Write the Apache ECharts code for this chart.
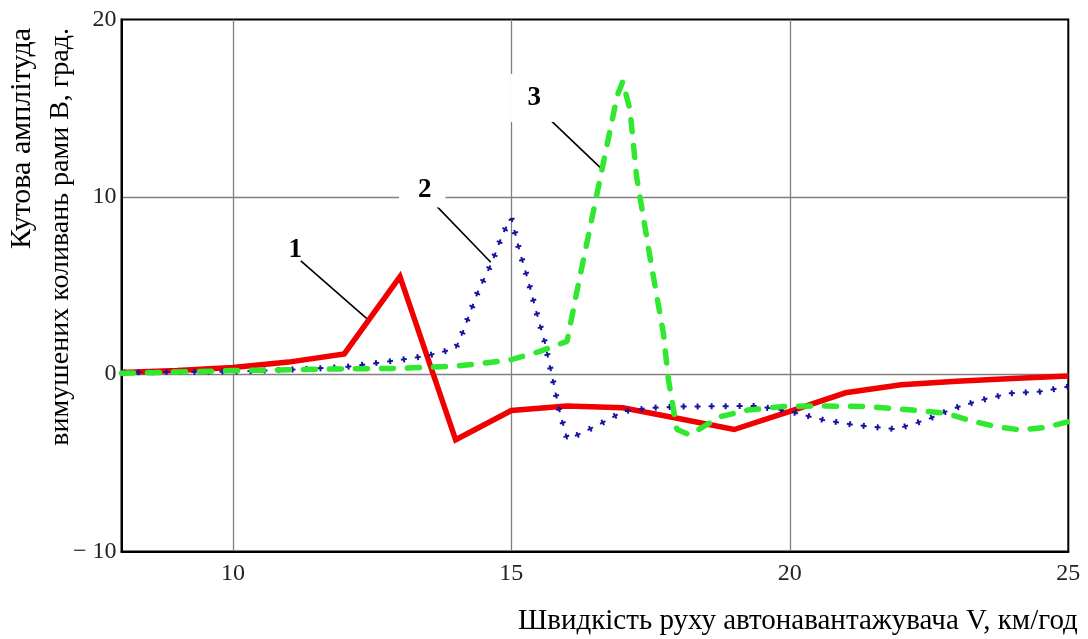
<!DOCTYPE html>
<html>
<head>
<meta charset="utf-8">
<script src="https://cdn.jsdelivr.net/npm/echarts@6/dist/echarts.min.js"></script>
<style>
html,body{margin:0;padding:0;background:#fff;}
#chart{width:1088px;height:639px;}
</style>
</head>
<body>
<div id="chart"></div>
<script>
// Curve 1 (red, solid)
const redX = [8, 9, 10, 11, 12, 13, 14, 15, 16, 17, 18, 19, 20, 21, 22, 23, 24, 25];
const redY = [0.1, 0.2, 0.38, 0.68, 1.14, 5.5, -3.7, -2.05, -1.8, -1.9, -2.5, -3.12, -2.1, -1.05, -0.6, -0.4, -0.25, -0.1];

// Curve 2 (blue, dotted with crosses)
const blueX = [8, 9, 10, 11, 12, 13, 13.5, 14, 14.1, 14.4, 14.65, 14.85, 15, 15.15, 15.3, 15.45, 15.6, 15.75, 15.85, 16, 16.25, 16.5, 16.75, 17, 17.5, 18, 19, 19.4, 20, 20.6, 21.15, 21.9, 22.45, 22.95, 23.45, 23.95, 24.5, 25];
const blueY = [0.1, 0.12, 0.15, 0.25, 0.4, 0.8, 1.05, 1.45, 2.15, 4.65, 6.3, 7.95, 8.8, 6.9, 5.3, 3.5, 1.8, -0.4, -1.9, -3.65, -3.35, -2.95, -2.55, -2.1, -1.9, -1.83, -1.8, -1.8, -2.1, -2.58, -2.86, -3.1, -2.58, -1.92, -1.45, -1.08, -0.98, -0.7];

// Curve 3 (green, dashed)
const greenX = [8, 9, 10, 11, 12, 13, 14, 14.5, 15, 15.5, 16, 16.17, 16.5, 16.9, 17, 17.13, 17.25, 17.5, 17.73, 17.82, 17.97, 18.2, 18.75, 19.25, 19.85, 20.5, 21.4, 22.2, 22.8, 23.2, 23.7, 24.15, 24.6, 25];
const greenY = [0.05, 0.12, 0.2, 0.25, 0.3, 0.33, 0.45, 0.62, 0.82, 1.27, 1.85, 4.56, 9.6, 15.7, 16.5, 14.9, 11.1, 6.4, 2.3, -0.3, -3.1, -3.43, -2.4, -2.02, -1.83, -1.79, -1.83, -2.02, -2.2, -2.58, -2.96, -3.15, -3.0, -2.68];

// Axis ticks
const xTickLabels = [10, 15, 20, 25];
const xGridTicks = [10, 15, 20];
const yMin = -10, yMax = 20, yStep = 10;
const xMin = 8, xMax = 25;

const pairs = (xs, ys) => xs.map((x, i) => [x, ys[i]]);

const chart = echarts.init(document.getElementById('chart'));
const serif = '"Liberation Serif", "DejaVu Serif", serif';
const blueData = pairs(blueX, blueY);

const option = {
  animation: false,
  backgroundColor: '#fff',
  grid: {
    left: 121.5, top: 19.5, right: 19.7, bottom: 87.5,
    show: true, borderColor: '#000', borderWidth: 2, backgroundColor: 'transparent'
  },
  xAxis: {
    type: 'value', min: xMin, max: xMax,
    axisLine: { show: true, onZero: false, lineStyle: { color: '#000', width: 2 } },
    axisTick: { show: false, customValues: xGridTicks },
    axisLabel: {
      customValues: xTickLabels, color: '#222', fontFamily: serif, fontSize: 24, margin: 10
    },
    splitLine: { show: true, lineStyle: { color: '#808080', width: 1.3 } }
  },
  yAxis: {
    type: 'value', min: yMin, max: yMax, interval: yStep,
    axisLine: { show: true, onZero: false, lineStyle: { color: '#000', width: 2 } },
    axisTick: { show: false },
    axisLabel: {
      color: '#222', fontFamily: serif, fontSize: 24, margin: 5,
      formatter: v => (v < 0 ? '\u2212 ' + Math.abs(v) : String(v))
    },
    splitLine: { show: true, showMinLine: false, showMaxLine: false, lineStyle: { color: '#808080', width: 1.3 } }
  },
  graphic: [
    {
      type: 'text', x: 22, y: 28, rotation: Math.PI / 2,
      style: { text: 'Кутова амплітуда', font: '30px ' + serif, fill: '#000', align: 'right', verticalAlign: 'middle' }
    },
    {
      type: 'text', x: 61, y: 28, rotation: Math.PI / 2,
      style: { text: 'вимушених коливань рами В, град.', font: '28px ' + serif, fill: '#000', align: 'right', verticalAlign: 'middle' }
    },
    {
      type: 'text', x: 518, y: 621,
      style: { text: 'Швидкість руху автонавантажувача V, км/год', font: '29px ' + serif, fill: '#000', align: 'left', verticalAlign: 'middle' }
    }
  ],
  series: [
    {
      name: '1', type: 'line', data: pairs(redX, redY), symbol: 'none', z: 3,
      lineStyle: { color: '#f00000', width: 5.5, join: 'miter' },
      markLine: {
        silent: true, symbol: 'none', animation: false,
        label: { show: false },
        lineStyle: { color: '#000', width: 1.6, type: 'solid' },
        data: [
          [{ coord: [11.22, 6.39] }, { coord: [12.40, 3.15] }],
          [{ coord: [13.58, 9.73] }, { coord: [14.63, 6.31] }],
          [{ coord: [15.51, 14.9] }, { coord: [16.64, 11.52] }]
        ]
      },
      markPoint: {
        silent: true, animation: false,
        symbol: 'circle', symbolSize: 1,
        itemStyle: { color: 'rgba(0,0,0,0)' },
        label: {
          show: true, position: 'inside', color: '#000',
          fontFamily: serif, fontWeight: 'bold', fontSize: 27
        },
        data: [
          { coord: [11.12, 7.0], label: { formatter: '1' } },
          { coord: [13.40, 10.39], label: { formatter: '2', backgroundColor: '#fff', padding: [4, 14, 4, 19] } },
          { coord: [15.41, 15.57], label: { formatter: '3', backgroundColor: '#fff', padding: [15, 17, 6, 17] } }
        ]
      }
    },
    {
      name: '2', type: 'line', data: blueData, symbol: 'none', z: 4,
      lineStyle: { color: '#1414a0', width: 2, type: [6, 8], cap: 'butt' }
    },
    {
      name: '2b', type: 'line', data: blueData, symbol: 'none', z: 4,
      lineStyle: { color: '#1414a0', width: 6, type: [2, 12], dashOffset: 12, cap: 'butt' }
    },
    {
      name: '3', type: 'line', data: pairs(greenX, greenY), symbol: 'none', z: 5,
      lineStyle: { color: '#30e830', width: 5.5, type: [12, 14], cap: 'round' }
    }
  ]
};
chart.setOption(option);
</script>
</body>
</html>
